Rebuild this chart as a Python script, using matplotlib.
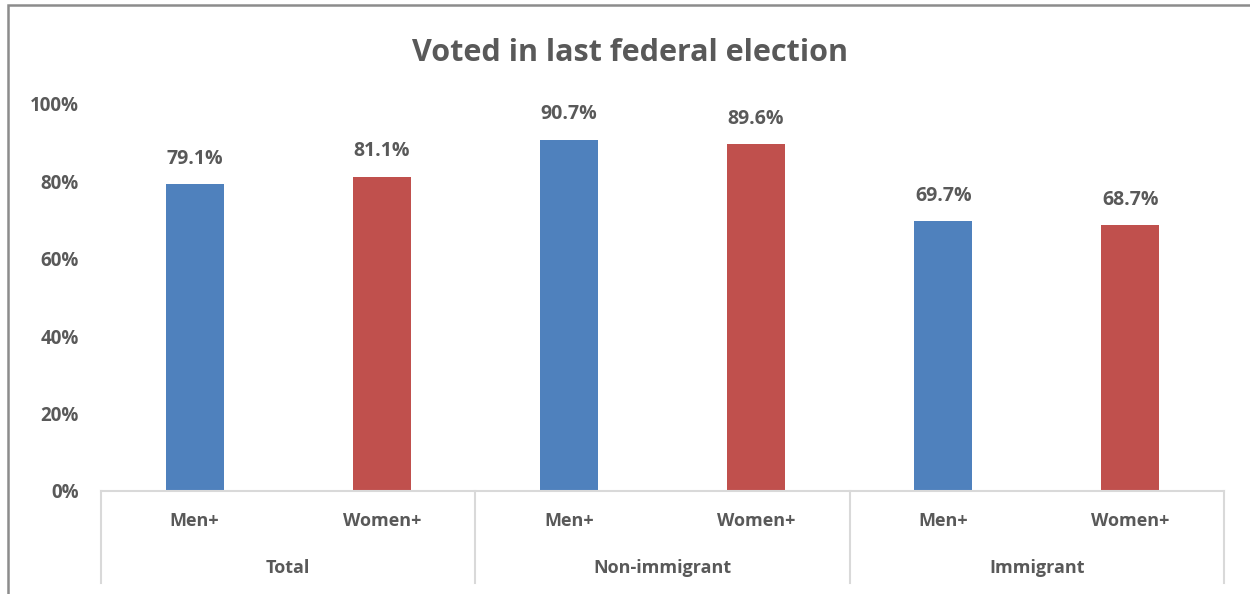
import matplotlib.pyplot as plt
from matplotlib.patches import Rectangle
from matplotlib.transforms import blended_transform_factory

# Share of people who voted in the last federal election
groups = ["Total", "Non-immigrant", "Immigrant"]
genders = ["Men+", "Women+"]
men = [79.1, 90.7, 69.7]
women = [81.1, 89.6, 68.7]
yticks = [0, 20, 40, 60, 80, 100]

blue = "#4F81BD"
red = "#C0504D"
text_gray = "#595959"
line_gray = "#D9D9D9"

plt.rcParams["font.family"] = ["Open Sans", "DejaVu Sans"]

W, H = 1250, 594
fig = plt.figure(figsize=(W / 100, H / 100), dpi=100)

# plot area in pixels: x 101..1224, y 104..491
x0, x1, ytop, ybot = 101, 1224, 103.5, 491
ax = fig.add_axes([x0 / W, (H - ybot) / H, (x1 - x0) / W, (ybot - ytop) / H])

values = []
colors = []
for m, w in zip(men, women):
    values += [m, w]
    colors += [blue, red]
xpos = list(range(len(values)))

bars = ax.bar(xpos, values, width=0.31, color=colors, zorder=2)
for x, v in zip(xpos, values):
    ax.annotate(f"{v:.1f}%", (x, v), xytext=(0, 11), textcoords="offset points",
                ha="center", va="bottom", fontsize=14, fontweight="bold",
                color=text_gray)

ax.set_xlim(-0.5, len(values) - 0.5)
ax.set_ylim(0, 100)
ax.set_yticks(yticks)
ax.set_yticklabels([f"{t}%" for t in yticks], fontsize=13.5, fontweight="bold",
                   color=text_gray)
ax.tick_params(axis="y", length=0, pad=16)
ax.set_xticks([])
for s in ["top", "right", "left"]:
    ax.spines[s].set_visible(False)
ax.spines["bottom"].set_color(line_gray)
ax.spines["bottom"].set_linewidth(1.5)

# two-level category axis
tr = blended_transform_factory(ax.transData, ax.transAxes)
depth = (ybot - 583) / (ybot - ytop)
for k in range(len(groups) + 1):
    xs = -0.5 + 2 * k
    ax.plot([xs, xs], [0, depth], transform=tr, color=line_gray, lw=1.5,
            clip_on=False, zorder=1)
sub_y = (ybot - 521) / (ybot - ytop)
grp_y = (ybot - 568) / (ybot - ytop)
for i, g in enumerate(groups):
    for j, gen in enumerate(genders):
        ax.text(2 * i + j, sub_y, gen, transform=tr, ha="center", va="center",
                fontsize=13, fontweight="bold", color=text_gray)
    ax.text(2 * i + 0.5, grp_y, g, transform=tr, ha="center", va="center",
            fontsize=13, fontweight="bold", color=text_gray)

fig.text(630 / W, 1 - 53 / H, "Voted in last federal election", ha="center",
         va="center", fontsize=22, fontweight="bold", color=text_gray)

# chart frame
fig.patches.append(Rectangle((8 / W, -0.1), 1.2, 1 - 5 / H + 0.1,
                             transform=fig.transFigure, fill=False,
                             edgecolor="#8C8C8C", linewidth=1.8))

fig.savefig("out.png", dpi=100, facecolor="white")
